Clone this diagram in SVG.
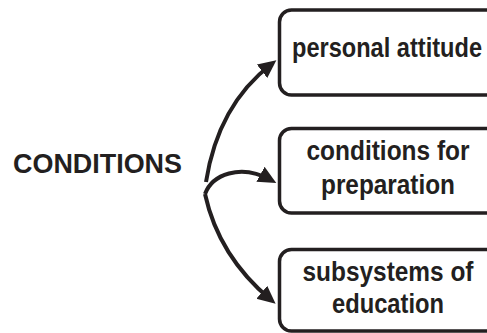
<svg xmlns="http://www.w3.org/2000/svg" width="487" height="333" viewBox="0 0 487 333">
<style>
.box{fill:#fff;stroke:#231f20;stroke-width:3.5}
.lbl{font-family:"Liberation Sans",Arial,sans-serif;font-weight:bold;fill:#231f20;font-size:27px;text-anchor:middle}
.edge{fill:none;stroke:#231f20;stroke-width:4}
</style>
<defs>
<marker id="ah" markerUnits="userSpaceOnUse" markerWidth="20" markerHeight="18" refX="12" refY="8.5" orient="auto">
<path d="M0,0 L18,8.5 L0,17 z" fill="#231f20"/>
</marker>
</defs>
<rect width="487" height="333" fill="#fff"/>
<g id="conditions">
<text x="13" y="173" style="font-family:'Liberation Sans',Arial,sans-serif;font-weight:bold;font-size:27px;fill:#231f20" textLength="169" lengthAdjust="spacingAndGlyphs">CONDITIONS</text>
</g>
<g id="personal-attitude">
<rect class="box" x="279.5" y="10" width="222" height="85" rx="12"/>
<text class="lbl" x="387" y="57" textLength="190" lengthAdjust="spacingAndGlyphs">personal attitude</text>
</g>
<g id="conditions-for-preparation">
<rect class="box" x="279.5" y="128.5" width="222" height="84.5" rx="12"/>
<text class="lbl" x="388" y="160" textLength="163" lengthAdjust="spacingAndGlyphs">conditions for</text>
<text class="lbl" x="388" y="194" textLength="134" lengthAdjust="spacingAndGlyphs">preparation</text>
</g>
<g id="subsystems-of-education">
<rect class="box" x="279.5" y="249.5" width="222" height="81.5" rx="12"/>
<text class="lbl" x="388" y="281" textLength="171" lengthAdjust="spacingAndGlyphs">subsystems of</text>
<text class="lbl" x="388" y="313" textLength="112" lengthAdjust="spacingAndGlyphs">education</text>
</g>
<g id="connectors">
<path class="edge" d="M206,182 Q218,105 271.6,64" marker-end="url(#ah)"/>
<path class="edge" d="M205,194 C212,175 240,163 271,180" marker-end="url(#ah)"/>
<path class="edge" d="M205,194 C214,235 235,270 271,300" marker-end="url(#ah)"/>
</g>
</svg>
